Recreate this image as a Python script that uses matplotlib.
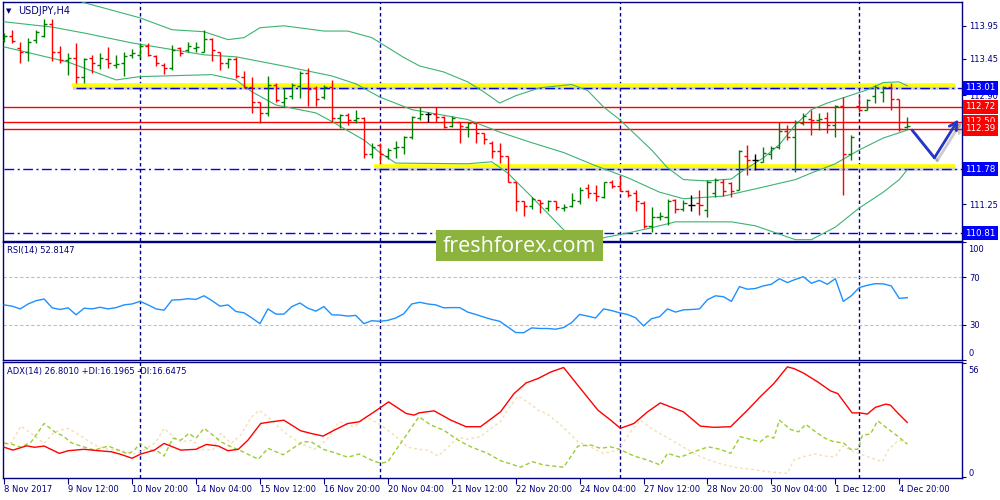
import numpy as np
import matplotlib
matplotlib.use('Agg')
import matplotlib.pyplot as plt
import matplotlib.patheffects as pe
import matplotlib.transforms as mtransforms
from matplotlib.patches import Rectangle

plt.rcParams['font.family'] = 'DejaVu Sans'

# ---------------- data ----------------
symbol = 'USDJPY,H4'

opens = [113.74, 113.80, 113.62, 113.56, 113.74, 113.80, 113.97, 113.56, 113.43, 113.46,
         113.18, 113.46, 113.36, 113.44, 113.36, 113.38, 113.51, 113.51, 113.64, 113.49,
         113.36, 113.31, 113.61, 113.58, 113.61, 113.56, 113.75, 113.56, 113.38, 113.44,
         113.18, 113.02, 112.79, 112.63, 113.06, 112.80, 112.88, 113.04, 113.23, 113.01,
         112.87, 113.02, 112.55, 112.60, 112.53, 112.55, 112.01, 112.15, 111.97, 112.10,
         112.12, 112.26, 112.55, 112.62, 112.62, 112.57, 112.43, 112.49, 112.42, 112.47,
         112.32, 112.18, 112.06, 111.97, 111.58, 111.29, 111.22, 111.31, 111.19, 111.29,
         111.19, 111.22, 111.30, 111.49, 111.42, 111.35, 111.59, 111.53, 111.44, 111.41,
         111.27, 110.92, 111.05, 111.06, 111.31, 111.17, 111.24, 111.27, 111.16, 111.41,
         111.59, 111.57, 111.47, 111.98, 111.92, 111.89, 112.01, 112.12, 112.35, 112.27,
         112.47, 112.54, 112.52, 112.55, 112.45, 112.74, 112.01, 112.74, 112.68, 112.88,
         112.95, 113.02, 112.84, 112.41]
highs = [113.84, 113.89, 113.70, 113.76, 113.89, 114.05, 114.06, 113.64, 113.54, 113.69,
         113.46, 113.50, 113.54, 113.63, 113.51, 113.56, 113.60, 113.69, 113.69, 113.51,
         113.38, 113.66, 113.63, 113.70, 113.70, 113.89, 113.76, 113.56, 113.46, 113.47,
         113.27, 113.18, 112.80, 113.19, 113.08, 113.01, 113.08, 113.26, 113.31, 113.04,
         113.06, 113.13, 112.62, 112.63, 112.68, 112.57, 112.18, 112.17, 112.10, 112.20,
         112.28, 112.58, 112.72, 112.65, 112.72, 112.59, 112.59, 112.50, 112.50, 112.48,
         112.33, 112.20, 112.17, 111.98, 111.59, 111.29, 111.36, 111.31, 111.31, 111.30,
         111.25, 111.42, 111.51, 111.56, 111.54, 111.59, 111.62, 111.67, 111.46, 111.46,
         111.29, 111.20, 111.13, 111.32, 111.32, 111.31, 111.39, 111.46, 111.62, 111.64,
         111.63, 111.58, 112.07, 112.15, 112.01, 112.12, 112.13, 112.49, 112.45, 112.52,
         112.63, 112.68, 112.63, 112.65, 112.75, 112.87, 112.30, 112.88, 112.84, 113.06,
         113.04, 113.09, 112.84, 112.57]
lows = [113.70, 113.69, 113.38, 113.42, 113.69, 113.78, 113.41, 113.38, 113.21, 113.09,
        113.08, 113.24, 113.29, 113.31, 113.31, 113.19, 113.46, 113.46, 113.49, 113.34,
        113.22, 113.28, 113.49, 113.56, 113.56, 113.56, 113.41, 113.28, 113.31, 113.16,
        113.00, 112.63, 112.47, 112.58, 112.80, 112.74, 112.84, 112.85, 112.74, 112.74,
        112.84, 112.50, 112.40, 112.45, 112.47, 111.94, 111.94, 111.87, 111.93, 111.94,
        112.01, 112.23, 112.53, 112.49, 112.49, 112.40, 112.41, 112.17, 112.27, 112.18,
        112.16, 111.94, 111.87, 111.58, 111.15, 111.07, 111.17, 111.11, 111.14, 111.16,
        111.14, 111.21, 111.25, 111.34, 111.29, 111.34, 111.49, 111.44, 111.36, 111.14,
        110.88, 110.82, 111.01, 110.93, 111.12, 111.15, 111.14, 111.09, 111.05, 111.36,
        111.37, 111.36, 111.46, 111.69, 111.76, 111.88, 111.93, 112.08, 112.22, 111.73,
        112.44, 112.30, 112.37, 112.32, 112.26, 111.39, 111.91, 112.64, 112.67, 112.78,
        112.80, 112.68, 112.36, 112.40]
closes = [113.80, 113.72, 113.56, 113.70, 113.85, 113.97, 113.56, 113.43, 113.46, 113.18,
          113.44, 113.38, 113.46, 113.38, 113.37, 113.49, 113.53, 113.64, 113.51, 113.38,
          113.31, 113.59, 113.54, 113.64, 113.63, 113.75, 113.59, 113.38, 113.44, 113.19,
          113.02, 112.79, 112.63, 113.06, 112.83, 112.86, 113.06, 113.24, 112.99, 112.84,
          113.02, 112.55, 112.60, 112.53, 112.56, 112.01, 112.12, 112.01, 112.07, 112.12,
          112.26, 112.57, 112.62, 112.62, 112.57, 112.42, 112.55, 112.43, 112.47, 112.32,
          112.23, 112.06, 111.97, 111.58, 111.29, 111.22, 111.32, 111.27, 111.29, 111.21,
          111.21, 111.31, 111.47, 111.42, 111.37, 111.58, 111.53, 111.44, 111.39, 111.29,
          110.91, 111.05, 111.07, 111.30, 111.17, 111.26, 111.24, 111.23, 111.59, 111.62,
          111.44, 111.44, 112.05, 111.92, 111.92, 112.03, 112.10, 112.35, 112.27, 112.50,
          112.58, 112.53, 112.54, 112.45, 112.74, 112.01, 112.27, 112.67, 112.82, 113.02,
          113.02, 112.84, 112.38, 112.43]

# bollinger bands (bar index, price)
bb_up_bar = [0, 5, 10, 17, 21, 25, 28, 30, 32, 35, 40, 43, 46, 50, 52, 55, 58, 60, 62, 64,
             67, 71, 73, 75, 77, 81, 83, 85, 88, 91, 92, 95, 97, 99, 101, 103, 106, 108, 110, 112, 113]
bb_up = [114.72, 114.53, 114.30, 114.07, 113.89, 113.86, 113.74, 113.77, 113.92, 113.95,
         113.87, 113.87, 113.77, 113.47, 113.34, 113.25, 113.10, 112.95, 112.78, 112.89,
         113.01, 113.06, 112.97, 112.72, 112.53, 112.07, 111.80, 111.62, 111.60, 111.63,
         111.72, 111.95, 112.15, 112.45, 112.68, 112.78, 112.90, 112.98, 113.09, 113.10, 113.04]
bb_mid_bar = [0, 6, 10, 16, 25, 29, 35, 41, 44, 47, 51, 58, 62, 66, 70, 74, 78, 82, 85, 90,
              94, 99, 101, 104, 107, 110, 113]
bb_mid = [114.01, 113.93, 113.84, 113.69, 113.51, 113.48, 113.34, 113.19, 113.07, 112.87,
          112.68, 112.53, 112.34, 112.18, 112.03, 111.83, 111.65, 111.43, 111.33, 111.37,
          111.48, 111.62, 111.72, 111.86, 112.07, 112.25, 112.37]
bb_low_bar = [0, 8, 14, 17, 26, 29, 31, 34, 39, 41, 45, 47, 49, 58, 61, 63, 66, 70, 73, 75,
              78, 81, 84, 91, 94, 99, 101, 104, 107, 110, 112, 113]
bb_low = [113.63, 113.40, 113.13, 113.18, 113.21, 113.13, 112.95, 112.75, 112.63, 112.50,
          112.22, 112.03, 111.87, 111.86, 111.89, 111.72, 111.36, 110.86, 110.59, 110.74,
          110.81, 110.89, 110.98, 110.98, 110.92, 110.71, 110.71, 110.90, 111.19, 111.43,
          111.62, 111.77]

price_ticks = [113.95, 113.45, 112.90, 112.35, 111.80, 111.25, 110.75]
price_tick_labels = ['113.95', '113.45', '112.90', '', '', '111.25', '']  # the rest sit under the boxes
red_levels = [112.72, 112.50, 112.39]
blue_levels = [113.01, 111.78, 110.81]
blue_from = [9, 0, 0]
yellow_levels = [113.05, 111.82]
yellow_from = [8.5, 46.3]
yellow_to = 119.0

forecast_bars = [113.6, 116.4, 119.4]
forecast_prices = [112.37, 111.95, 112.53]

date_bars = [0, 8, 16, 24, 32, 40, 48, 56, 64, 72, 80, 88, 96, 104, 112]
date_labels = ['8 Nov 2017', '9 Nov 12:00', '10 Nov 20:00', '14 Nov 04:00', '15 Nov 12:00',
               '16 Nov 20:00', '20 Nov 04:00', '21 Nov 12:00', '22 Nov 20:00', '24 Nov 04:00',
               '27 Nov 12:00', '28 Nov 20:00', '30 Nov 04:00', '1 Dec 12:00', '4 Dec 20:00']
week_starts = [17, 47, 77, 107]

rsi_title = 'RSI(14) 52.8147'
rsi = [46.7, 45.6, 43.3, 47.5, 50.3, 51.7, 44.2, 42.8, 44.2, 38.3,
       43.9, 43.3, 44.7, 43.3, 44.4, 46.7, 47.5, 49.7, 46.7, 43.3,
       42.2, 50.8, 51.1, 51.9, 51.4, 54.4, 50.3, 45.6, 46.7, 41.1,
       40.0, 35.6, 30.8, 43.3, 38.9, 38.9, 45.3, 48.3, 43.9, 41.4,
       45.3, 38.3, 38.1, 37.2, 37.8, 30.8, 33.3, 32.8, 33.6, 35.6,
       39.2, 47.5, 48.9, 47.5, 46.7, 44.2, 44.4, 44.4, 40.6, 38.6,
       36.4, 34.4, 32.8, 28.1, 23.3, 23.1, 27.2, 26.7, 26.7, 26.1,
       27.5, 31.7, 38.6, 37.2, 35.6, 43.3, 41.9, 40.0, 38.6, 35.8,
       28.9, 35.0, 36.7, 43.3, 40.6, 42.5, 42.8, 43.3, 51.1, 54.4,
       53.6, 49.7, 62.2, 60.0, 60.6, 62.8, 64.2, 68.9, 65.6, 68.3,
       70.6, 65.0, 67.5, 64.2, 68.9, 49.7, 54.4, 61.4, 63.3, 64.7,
       64.5, 62.8, 52.2, 52.8]

adx_title = 'ADX(14) 26.8010 +DI:16.1965 -DI:16.6475'
adx_pos = [0, 1.1, 2.8, 3.8, 5, 6.9, 8, 10, 11.8, 13.4, 14.6, 16, 17.1, 18.8, 20, 22.1, 24, 25.3,
           26.8, 28, 29.3, 30.5, 32.1, 33.4, 35, 37.1, 38.4, 39.9, 41.3, 43, 44.4, 46.3, 48.1,
           50.3, 51.3, 51.9, 53.8, 55.9, 57.8, 59.6, 62.1, 63.8, 65.3, 66.8, 68.4, 70, 72.1,
           74.3, 75.9, 77.1, 78.8, 80.5, 82.1, 83.4, 85, 87.1, 88.8, 90.9, 93, 94.6, 96.3, 98,
           98.8, 100, 101.8, 103.4, 104.3, 106.1, 107.1, 108, 109, 110.3, 110.9, 111.8, 113]
adx = [14.6, 13.2, 15.3, 14.6, 15.2, 11.6, 12.9, 13.6, 12.9, 12.4, 11.1, 9.2, 11.3, 13.2, 16.5,
       13.2, 13.6, 16.0, 15.2, 12.9, 13.6, 18.1, 26.3, 27.1, 27.9, 22.7, 21.4, 20.1, 23.0, 26.3,
       27.1, 32.0, 36.9, 31.2, 30.4, 31.5, 32.5, 27.9, 24.7, 24.7, 32.0, 41.0, 46.2, 48.4, 51.6,
       53.8, 43.5, 32.8, 27.9, 23.9, 26.3, 32.0, 36.4, 34.4, 32.0, 25.0, 24.4, 24.7, 32.8, 39.4,
       45.9, 54.1, 53.3, 51.1, 46.7, 42.3, 41.0, 31.5, 31.5, 30.9, 34.2, 35.8, 35.3, 31.5, 26.8]
pdi_pos = [0, 0.9, 2.1, 3.4, 5, 6.3, 7.4, 8.4, 9.9, 11.3, 13, 14.3, 15.5, 16.3, 17, 18, 19.3, 20,
           21.1, 22.1, 23.1, 24, 25, 26.1, 27.1, 28.4, 29.6, 31.8, 33, 34.9, 36.3, 37.4, 38.4,
           39.9, 41.3, 43, 44.4, 45.9, 47.1, 48, 49.3, 50.6, 51.9, 53.4, 55, 56.8, 58.4, 60.5,
           62.1, 63.4, 64.6, 66.1, 67.5, 70, 71.8, 73.4, 74.6, 75.9, 77, 78.8, 80.5, 82.1, 83,
           84.6, 86.3, 88.1, 89.6, 90.9, 92.1, 93.4, 94.6, 95.5, 96.3, 97, 98.4, 99.4, 100.3,
           101.5, 102.8, 103.8, 105, 105.9, 106.8, 107.4, 108.4, 109.3, 110.5, 111.8, 113]
pdi = [16.5, 16.2, 14.6, 17.3, 26.3, 22.2, 20.1, 16.8, 14.8, 13.2, 15.2, 13.2, 11.3, 13.2, 16.5,
       13.6, 12.4, 10.3, 19.0, 18.1, 21.4, 19.0, 23.9, 20.6, 17.3, 14.8, 12.9, 8.7, 14.1, 10.9,
       14.6, 17.3, 17.3, 13.6, 12.0, 9.7, 11.3, 8.4, 6.7, 7.5, 14.8, 22.2, 29.6, 25.5, 23.0,
       18.1, 14.8, 11.6, 8.0, 6.4, 4.8, 7.5, 5.9, 4.8, 15.2, 15.7, 14.1, 14.8, 13.6, 10.3,
       8.3, 5.9, 11.6, 9.7, 12.4, 14.8, 13.6, 11.6, 19.8, 18.5, 17.3, 20.1, 19.1, 27.9, 23.3,
       22.2, 25.9, 22.2, 18.9, 17.3, 16.8, 13.6, 13.6, 20.6, 21.1, 27.6, 23.9, 20.1, 16.2]
mdi_pos = [0, 0.9, 2.1, 3.4, 5, 6.3, 8, 9.6, 11.3, 13, 14.6, 16.3, 17.5, 19, 20, 21.1, 22.1, 23.6,
           24.6, 26.1, 27.1, 28.4, 29.6, 30.9, 31.9, 33, 34.3, 35.5, 37.1, 38.8, 40.3, 41.9, 43.8,
           45.3, 47.1, 48.8, 50.5, 51.8, 53, 54.3, 55.5, 56.8, 58, 59.6, 60.9, 62.1, 63, 64.3,
           65.5, 66.8, 68, 69.9, 71.8, 73.4, 75, 76.8, 78.4, 79.6, 81.3, 83, 85, 87.1, 89.3,
           91.3, 93.4, 95.5, 98, 98.8, 100, 101.5, 103.1, 104, 104.9, 106.3, 108, 109.9, 110.6,
           111.9, 113]
mdi = [16.8, 16.8, 25.0, 21.4, 16.5, 22.2, 23.9, 20.1, 15.7, 13.6, 12.9, 11.3, 13.2, 17.3, 23.9,
       20.1, 17.3, 18.1, 13.6, 13.2, 21.4, 16.5, 20.6, 29.3, 32.8, 29.6, 24.7, 20.6, 16.5, 13.6,
       18.1, 27.1, 24.7, 29.6, 25.5, 20.6, 14.6, 13.6, 13.2, 10.3, 14.6, 19.5, 18.5, 19.8, 23.9,
       27.1, 33.0, 39.7, 36.9, 32.8, 30.9, 24.7, 17.3, 14.6, 11.6, 13.2, 22.2, 27.9, 23.0, 19.3,
       14.6, 10.0, 6.8, 4.8, 3.8, 2.6, 1.8, 8.3, 10.0, 11.3, 10.0, 10.0, 15.2, 12.4, 10.0, 7.5,
       13.2, 18.1, 16.6]

# ---------------- figure ----------------
NAVY = '#000080'
fig = plt.figure(figsize=(10, 5), dpi=100)
ax = fig.add_axes([0.003, 0.518, 0.959, 0.478])
ax_rsi = fig.add_axes([0.003, 0.28, 0.959, 0.236])
ax_adx = fig.add_axes([0.003, 0.044, 0.959, 0.232])

for a in (ax, ax_rsi, ax_adx):
    a.set_xlim(-0.15, 119.85)
    for s in a.spines.values():
        s.set_color(NAVY)
        s.set_linewidth(1)
    a.yaxis.tick_right()
    a.tick_params(axis='y', colors=NAVY, labelsize=6, length=3, width=0.8, pad=2)
    a.tick_params(axis='x', bottom=False, labelbottom=False)
    for b in week_starts:
        a.axvline(b, color=NAVY, lw=1, ls=(0, (2.5, 2)), zorder=1)

# main price panel
ax.set_ylim(110.69, 114.31)
ax.set_yticks(price_ticks)
ax.set_yticklabels(price_tick_labels)

shadow = [pe.SimpleLineShadow(offset=(0.5, -2), shadow_color='#777777', alpha=0.35), pe.Normal()]
for lvl, x0 in zip(yellow_levels, yellow_from):
    ax.plot([x0, yellow_to], [lvl, lvl], color='#ffff00', lw=2.6, solid_capstyle='butt',
            path_effects=shadow, zorder=2)
for lvl, x0 in zip(blue_levels, blue_from):
    ax.plot([x0, 119.85], [lvl, lvl], color='#0000ff', lw=1, ls=(0, (7, 2.5, 1.5, 2.5)), zorder=2.2)
for lvl in red_levels:
    ax.axhline(lvl, color='#ff0000', lw=1, zorder=2.3)

bb_col = '#3cb371'
ax.plot(bb_up_bar, bb_up, color=bb_col, lw=0.8, zorder=3)
ax.plot(bb_mid_bar, bb_mid, color=bb_col, lw=0.8, zorder=3)
ax.plot(bb_low_bar, bb_low, color=bb_col, lw=0.8, zorder=3)

o, h, l, c = map(np.array, (opens, highs, lows, closes))
x = np.arange(len(c))
cols = np.where(c > o, '#008000', np.where(c < o, '#ff0000', '#000000'))
ax.vlines(x, l, h, colors=cols, lw=1.0, zorder=4)
ax.hlines(o, x - 0.38, x, colors=cols, lw=1.0, zorder=4)
ax.hlines(c, x, x + 0.38, colors=cols, lw=1.0, zorder=4)

# hand drawn forecast arrow
arrow_col = '#2236c8'
arr_shadow = [pe.SimpleLineShadow(offset=(2, -2), shadow_color='#555555', alpha=0.3), pe.Normal()]
ax.plot(forecast_bars[:2], forecast_prices[:2], color=arrow_col, lw=2, solid_capstyle='round',
        solid_joinstyle='round', path_effects=arr_shadow, zorder=6)
ann = ax.annotate('', xy=(forecast_bars[2], forecast_prices[2]),
                  xytext=(forecast_bars[1], forecast_prices[1]),
                  arrowprops=dict(arrowstyle='->,head_length=0.55,head_width=0.3', color=arrow_col,
                                  lw=2, shrinkA=0, shrinkB=0), zorder=6, annotation_clip=False)
ann.arrow_patch.set_path_effects(arr_shadow)

# price boxes on the right axis
tr = mtransforms.blended_transform_factory(ax.transAxes, ax.transData)
for lvl in blue_levels:
    ax.text(1.0035, lvl, f'{lvl:.2f}', transform=tr, color='white', fontsize=6.3, va='center',
            ha='left', bbox=dict(boxstyle='square,pad=0.28', fc='#0000ff', ec='none'),
            clip_on=False, zorder=7)
for lvl in red_levels:
    ax.text(1.0035, lvl, f'{lvl:.2f}', transform=tr, color='white', fontsize=6.3, va='center',
            ha='left', bbox=dict(boxstyle='square,pad=0.28', fc='#ff0000', ec='none'),
            clip_on=False, zorder=7)

ax.text(0.0063, 0.962, '\u25bc', transform=ax.transAxes, fontsize=5, ha='center', va='center',
        color=NAVY)
ax.text(0.0156, 0.962, symbol, transform=ax.transAxes, fontsize=7, ha='left', va='center',
        color=NAVY)

# RSI panel
ax_rsi.set_ylim(0, 100)
for lvl in (70, 30):
    ax_rsi.axhline(lvl, color='#c0c0c0', lw=0.8, ls=(0, (3, 2)), zorder=1)
ax_rsi.plot(np.arange(len(rsi)), rsi, color='#1e90ff', lw=1, zorder=3)
ax_rsi.set_yticks([0, 30, 70, 100])
ax_rsi.set_yticklabels(['', '30', '70', ''])
ax_rsi.text(1.0063, 0.94, '100', transform=ax_rsi.transAxes, fontsize=6, color=NAVY, va='center')
ax_rsi.text(1.0063, 0.059, '0', transform=ax_rsi.transAxes, fontsize=6, color=NAVY, va='center')
ax_rsi.text(0.0042, 0.925, rsi_title, transform=ax_rsi.transAxes, fontsize=6, color=NAVY,
            va='center')

# ADX panel
ax_adx.set_ylim(-0.5, 56.5)
ax_adx.plot(mdi_pos, mdi, color='#f5deb3', lw=1, ls=(0, (2, 2)), zorder=2)
ax_adx.plot(pdi_pos, pdi, color='#9acd32', lw=1, ls=(0, (3, 2)), zorder=2)
ax_adx.plot(adx_pos, adx, color='#ff0000', lw=1, zorder=3)
ax_adx.set_yticks([0, 56])
ax_adx.set_yticklabels(['', ''])
ax_adx.text(1.0063, 0.931, '56', transform=ax_adx.transAxes, fontsize=6, color=NAVY, va='center')
ax_adx.text(1.0063, 0.043, '0', transform=ax_adx.transAxes, fontsize=6, color=NAVY, va='center')
ax_adx.text(0.0042, 0.922, adx_title, transform=ax_adx.transAxes, fontsize=6, color=NAVY,
            va='center')
ax_adx.set_xticks(date_bars)
ax_adx.set_xticklabels(date_labels, ha='left')
ax_adx.tick_params(axis='x', bottom=True, labelbottom=True, colors=NAVY, labelsize=6,
                   length=4, width=0.8, pad=1)

# watermark
fig.add_artist(Rectangle((0.436, 0.478), 0.167, 0.062, transform=fig.transFigure,
                         fc='#8db33f', ec='none', zorder=5))
fig.text(0.5195, 0.508, 'freshforex.com', color='white', fontsize=15.5, family='Open Sans',
         ha='center', va='center', zorder=6)

fig.savefig('out.png', dpi=100, facecolor='white')
